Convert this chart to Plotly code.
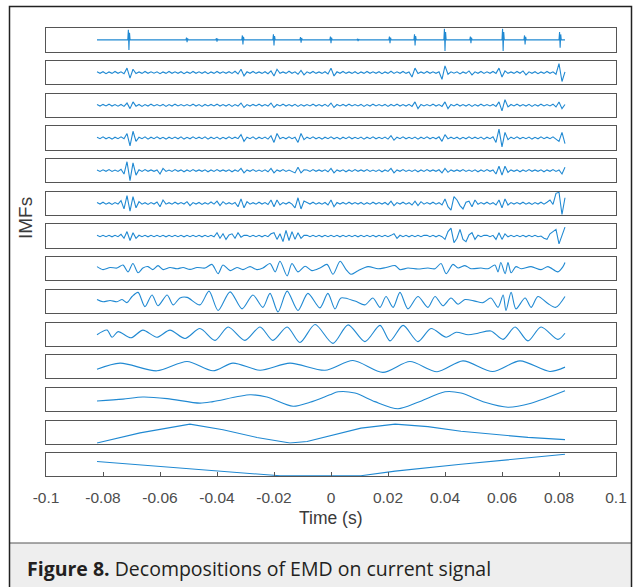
import numpy as np
import plotly.graph_objects as go

W, H = 639, 587
T_START, T_END = -0.0821, 0.0821

# ---------------- data (amplitudes normalised to +-10 per panel) ----------------
imf1_spike_t = [-0.0709, -0.0505, -0.0400, -0.0309, -0.0200, -0.0105, 0.0000, 0.0095,
                0.0207, 0.0295, 0.0400, 0.0491, 0.0604, 0.0681, 0.0804]
imf1_spike_a = [9, 2, 1.5, 4, 5, 2.5, 3, 1, 3, 5, 10, 3, 10, 4, 7]

imf2 = [.7,-.6,.8,-1,.6,-.7,1,-.6,.7,-1,
        4,-5,3,-.8,.6,-.7,1,-.6,.7,-.6,
        .7,-1,.6,-.7,1,-.6,.7,-.6,.8,-1,
        .6,-.7,1,-.6,.7,-.6,.8,-1,.6,-.7,
        1,-.6,.7,-.6,.8,-.7,1.2,-1.2,3,-3,
        .7,-.6,1,-.7,.6,-.7,.8,-1,1.5,-3,
        3,-.7,.6,-.7,1.2,-.6,.7,-1.5,2,-2,
        .7,-.6,1,-.7,.6,-.7,.8,-1.2,4,-3,
        .7,-.6,1,-.7,.6,-.7,.8,-1,.6,-.7,
        1,-.6,.7,-.6,.8,-1,.6,-.7,1.2,-.7,
        .7,-.6,1,-.7,.6,-4,4,-.8,.6,-.7,
        1,-.6,.7,-.6,.8,-6,6,-1.5,.7,-.6,
        .7,-1.2,.6,-.7,1.5,-2,.7,-.6,1,-.7,
        .7,-.6,1,-.7,4,-4,1.5,-.7,.6,-.7,
        1,-.6,1.5,-2,.7,-.6,.8,-1,.6,-.7,
        1,-.6,.7,-1.5,8,-8,.7]

imf3 = [.6,-.7,.8,-.6,1,-.7,.6,-.8,.7,-1,
        2,-3,3,-.8,.7,-1,.6,-.7,1,-.6,
        .7,-.6,.8,-1,.6,-.7,1,-.6,.7,-.6,
        .7,-.6,1,-.7,.6,-1,.7,-.6,.8,-.6,
        1,-.7,.6,-.7,.8,-1,.6,-.7,2,-2,
        .6,-.7,.8,-.6,1,-.7,.6,-.7,2,-2,
        .7,-.6,1,-.7,.6,-.7,.8,-1,.6,-.7,
        .7,-.6,1,-.7,.6,-.7,.8,-1,2,-2,
        .7,-.6,.8,-.7,1,-.6,.7,-.6,.8,-1,
        .6,-.7,1,-.6,.7,-.6,.8,-1,.7,-.6,
        1,-.7,.6,-.7,.8,-1,3,-3,.7,-.6,
        .7,-.6,1,-.7,.6,-1,3,-3,.7,-.6,
        1,-.7,.6,-.7,.8,-1,.6,-.7,1,-.6,
        .7,-.6,.8,-1,3,-5,5,-1.5,.7,-.6,
        1,-.7,.6,-.7,.8,-1,.6,-.7,1,-.6,
        .7,-.6,1,-1.5,3,-3,.7]

imf4 = [.7,-.6,1,-.7,.6,-1,.7,-.6,1,-.7,
        4,-7,6,-3,.7,-.6,1,-1,.7,-.6,
        1,-.7,.6,-1,.7,-.6,.8,-.7,1,-1,
        .6,-.7,1,-.6,.7,-.6,1,-1,.7,-.6,
        .8,-1,.6,-.7,1,-.6,.7,-.6,3,-3,
        .7,-.6,1,-1,.7,-.6,.8,-1,2,-4,
        4,-.7,.6,-.7,1,-.6,.7,-4,4,-1.5,
        .7,-.6,1,-.7,.6,-1,.7,-.6,1,-.7,
        .6,-1,.7,-.6,1,-.7,.6,-.7,.8,-1,
        .7,-.6,1,-.7,.6,-.7,.8,-1,2,-2,
        .7,-.6,1,-.7,.6,-.7,.8,-1,.7,-.6,
        1,-.7,.6,-.7,1,-3,3,-.8,.7,-.6,
        .7,-1,.6,-.7,1,-.6,.7,-.6,.8,-1,
        .7,-.6,1,-4,8,-8,5,-1.5,.7,-.6,
        1,-.7,.6,-.7,.8,-1,.6,-.7,1,-.6,
        .7,-.6,1,-.7,-3,5,-5]

imf5 = [.6,-.7,.8,-.6,1,-.7,.6,-.7,1.2,-3,
        8,-9,7,-4,.8,-.7,1,-.6,.7,-.6,
        .7,-3,2,-.7,.6,-.7,1,-.6,.7,-1,
        .6,-.7,1,-.6,.7,-.6,.8,-1,.6,-.7,
        1,-.6,.7,-.6,.8,-1,.6,-.7,2,-2,
        .7,-.6,1,-.7,.6,-.7,.8,-1,2,-2,
        .7,-.6,1,-.7,.6,-.7,-2,3,-2,.7,
        .6,-.7,1,-.6,.7,-.6,.8,-1,2,-2,
        .7,-.6,.8,-1,.6,-.7,1,-.6,.7,-.6,
        1,-.7,.6,-.7,.8,-1,.6,-.7,2,-2,
        .7,-.6,1,-.7,.6,-.7,.8,-1,.6,-.7,
        1,-.6,.7,-.6,.8,-2,2,-1.5,.7,-.6,
        .7,-.6,1,-.7,.6,-.7,.8,-1,.6,-.7,
        1,-.6,.7,-3,4,-4,4,-1.5,.7,-.6,
        .7,-1,.6,-.7,1,-.6,.7,-.6,.8,-1,
        .7,-.6,1,-.7,.6,-3,3]

imf6 = [.7,-.6,1,-.7,.6,-1,.7,-.6,2.5,-5,
        7,-7,6,-4,1.5,-.7,.6,-1,.7,-.6,
        1.2,-3,3,-.7,.6,-.7,1,-.6,.7,-.6,
        1.5,-2,.7,-.6,.8,-1,.6,-.7,1.2,-.7,
        2,-2,1.5,-.7,.6,-.7,.8,-3,4,-4,
        1.5,-.7,.6,-.7,1,-.6,.7,-1,3,-3,
        3,-1.5,.7,-.6,1,-.7,-4,5,-5,2,
        .7,-.6,1,-.7,.6,-.7,.8,-1.5,3,-3,
        .7,-.6,.8,-.7,1,-.6,.7,-.6,.8,-1,
        .6,-.7,1,-.6,.7,-.6,.8,-1.2,2,-2,
        .7,-.6,1,-.7,.6,-1.5,2,-2,1.5,-.7,
        .7,-.6,1,-.7,.6,-1.5,4,-3,-6,6,
        3,-2,-5,1,2,-3,3,-.8,.7,-.6,
        1,-.7,.6,-1.5,3,-4,4,-1.5,.7,-.6,
        .7,-.6,1,-.7,.6,-1,.7,-.6,1,-.7,
        1,3,-1,9,10,-10,5]

imf7 = [.6,-.6,.7,-.6,.6,-.7,.6,-.6,1.5,-2,
        4,-4,3,-2,.7,-.6,.6,-.7,.6,-.6,
        .7,-.6,.6,-.7,.6,-.6,.7,-.6,.6,-.7,
        .6,-.6,.7,-.6,.6,-.7,.6,-.6,.7,-.6,
        3,-2,2,-3,1,2,-2,3,-1,.7,
        .6,-.6,.7,-.6,.6,-.7,.6,-.6,2,3,
        -3,2,-5,5,-4,4,-3,3,-2,.7,
        .6,-.6,.7,-.6,.6,-.7,.6,-.6,.7,-.6,
        .6,-.7,.6,-.6,.7,-.6,.6,-.7,.6,-.6,
        .7,-.6,.6,-.7,.6,-.6,.7,-.6,.6,2,
        -2,.7,-.6,.6,-.7,.6,-.6,.7,-.6,.6,
        .7,-.6,.6,-.7,.6,-.6,-3,4,7,-6,
        -2,6,-3,-5,1,3,-3,.7,-.6,.6,
        .7,-.6,.6,-3,3,-3,2,-.7,.6,-.6,
        .7,-.6,.6,-.7,.6,-.6,.7,-.6,0,-2,
        -3,2,4,6,-7,0,8]

imf8_t = [-0.0821,-0.0800,-0.0775,-0.0751,-0.0730,-0.0712,-0.0695,-0.0677,-0.0660,-0.0642,
          -0.0625,-0.0607,-0.0589,-0.0565,-0.0540,-0.0519,-0.0495,-0.0470,-0.0442,-0.0418,
          -0.0396,-0.0379,-0.0354,-0.0330,-0.0309,-0.0284,-0.0260,-0.0239,-0.0214,-0.0196,
          -0.0179,-0.0154,-0.0137,-0.0116,-0.0091,-0.0067,-0.0039,-0.0014,0.0007,0.0032,
          0.0053,0.0070,0.0095,0.0130,0.0165,0.0193,0.0225,0.0242,0.0270,0.0305,
          0.0340,0.0365,0.0386,0.0404,0.0428,0.0446,0.0470,0.0491,0.0526,0.0551,
          0.0575,0.0586,0.0596,0.0611,0.0621,0.0632,0.0649,0.0667,0.0702,0.0737,
          0.0761,0.0796,0.0814,0.0821]
imf8_v = [1.9,-0.8,1.1,0.6,3.3,-2.8,4.7,-3.6,0.6,1.9,
          -0.8,2.8,-0.8,1.1,0.0,1.1,-0.6,1.1,0.6,3.9,
          -4.4,3.3,-1.7,1.1,-0.8,1.9,-0.8,0.6,4.7,-2.8,
          6.7,-6.4,4.7,-2.8,2.2,-1.7,0.6,3.9,-5.0,6.7,
          -0.8,-5.0,-1.7,1.9,0.0,1.1,2.8,-0.8,0.6,-0.3,
          0.6,0.0,4.7,-4.4,3.9,0.6,2.8,0.0,0.6,0.0,
          3.3,-2.8,5.6,-4.4,5.6,-3.6,1.9,0.0,1.9,-0.8,
          1.9,-2.8,1.9,5.6]

imf9_t = [-0.0821,-0.0800,-0.0775,-0.0751,-0.0733,-0.0716,-0.0698,-0.0677,-0.0653,-0.0628,
          -0.0607,-0.0575,-0.0554,-0.0530,-0.0505,-0.0460,-0.0428,-0.0396,-0.0354,-0.0312,
          -0.0274,-0.0239,-0.0214,-0.0186,-0.0154,-0.0116,-0.0081,-0.0039,-0.0011,0.0014,
          0.0035,0.0084,0.0119,0.0147,0.0172,0.0193,0.0218,0.0242,0.0270,0.0305,
          0.0340,0.0365,0.0393,0.0421,0.0446,0.0470,0.0505,0.0533,0.0561,0.0586,
          0.0604,0.0614,0.0632,0.0649,0.0681,0.0702,0.0726,0.0761,0.0789,0.0821]
imf9_v = [1.7,-0.3,0.8,-0.3,1.7,-1.1,4.4,8.1,-4.7,5.8,
          -3.9,5.8,-3.1,3.1,3.6,-3.1,9.2,-8.1,8.6,-6.7,
          5.8,-5.3,7.2,-9.4,9.2,-8.1,7.2,-5.8,7.2,-6.7,
          3.1,0.3,-3.1,3.1,-5.3,4.4,-5.3,8.1,-6.7,4.4,
          -5.3,4.4,-3.9,3.1,-2.5,1.7,0.3,-1.1,3.1,-5.3,
          5.8,-8.1,8.1,-6.7,3.1,-5.3,4.4,-1.9,-5.3,4.4]

imf10_t = [-0.0821,-0.0786,-0.0768,-0.0747,-0.0702,-0.0660,-0.0611,-0.0565,-0.0512,-0.0460,
           -0.0407,-0.0361,-0.0302,-0.0249,-0.0204,-0.0154,-0.0109,-0.0056,0.0007,0.0060,
           0.0119,0.0172,0.0207,0.0253,0.0305,0.0351,0.0404,0.0439,0.0481,0.0516,
           0.0561,0.0604,0.0646,0.0691,0.0737,0.0796,0.0821]
imf10_v = [-0.6,3.6,-2.8,2.2,-3.3,3.6,-2.8,3.6,-3.9,5.0,
           -5.6,6.4,-5.6,6.4,-5.6,6.4,-7.5,8.6,-8.3,8.3,
           -6.7,7.8,-6.1,7.8,-6.7,5.0,-2.8,1.7,-0.6,0.8,
           2.8,-4.7,6.4,-6.1,6.4,-4.7,0.8]

imf11_t = [-0.0821,-0.0740,-0.0611,-0.0505,-0.0414,-0.0344,-0.0249,-0.0144,-0.0021,0.0077,
           0.0182,0.0277,0.0372,0.0463,0.0567,0.0663,0.0768,0.0821]
imf11_v = [-2.2,3.3,-3.6,4.7,-3.6,3.3,-3.1,3.3,-3.1,5.6,
           -5.0,4.7,-4.4,5.3,-4.2,5.3,-4.2,-0.3]

imf12_t = [-0.0821,-0.0730,-0.0660,-0.0575,-0.0460,-0.0414,-0.0284,-0.0225,-0.0133,-0.0074,
           -0.0004,0.0025,0.0084,0.0154,0.0235,0.0305,0.0400,0.0456,0.0540,0.0621,
           0.0702,0.0821]
imf12_v = [-1.4,0.3,2.2,0.8,-3.3,-1.9,4.2,2.2,-6.1,-2.5,
           4.2,6.9,5.8,-1.9,-8.3,-2.5,6.9,5.8,-2.5,-6.9,
           -3.3,7.8]

imf13_t = [-0.0821,-0.0670,-0.0495,-0.0379,-0.0260,-0.0144,-0.0084,-0.0004,0.0105,0.0225,
           0.0340,0.0456,0.0575,0.0691,0.0821]
imf13_v = [-9.7,-0.6,7.2,2.2,-4.7,-9.7,-8.3,-3.3,3.6,7.2,
           5.0,0.8,-1.9,-4.7,-6.7]

imf14_t = [-0.0821,-0.0495,-0.0179,0.0105,0.0225,0.0456,0.0691,0.0821]
imf14_v = [3.0,-3.3,-9.8,-9.8,-5.6,0.5,6.3,9.5]

tick_vals = [-0.1, -0.08, -0.06, -0.04, -0.02, 0, 0.02, 0.04, 0.06, 0.08, 0.1]
tick_text = ["-0.1", "-0.08", "-0.06", "-0.04", "-0.02", "0", "0.02", "0.04", "0.06", "0.08", "0.1"]

# ---------------- build series ----------------
def sampled(vals):
    return list(np.linspace(T_START, T_END, len(vals))), vals

r1x, r1y = [T_START], [0]
for t, a in zip(imf1_spike_t, imf1_spike_a):
    for dt, f in zip([-0.0004, -0.0002, 0.0, 0.0002, 0.0004], [0, 1, -1, 0.7, 0]):
        r1x.append(t + dt)
        r1y.append(a * f)
r1x.append(T_END); r1y.append(0)

series = [
    (r1x, r1y, "linear"),
    (*sampled(imf2), "linear"),
    (*sampled(imf3), "linear"),
    (*sampled(imf4), "linear"),
    (*sampled(imf5), "linear"),
    (*sampled(imf6), "linear"),
    (*sampled(imf7), "linear"),
    (imf8_t, imf8_v, "spline"),
    (imf9_t, imf9_v, "spline"),
    (imf10_t, imf10_v, "spline"),
    (imf11_t, imf11_v, "spline"),
    (imf12_t, imf12_v, "spline"),
    (imf13_t, imf13_v, "linear"),
    (imf14_t, imf14_v, "linear"),
]

LINE_COLOR = "#2089d2"
AX_COLOR = "#555555"

fig = go.Figure()
layout = dict(
    width=W, height=H, autosize=False,
    margin=dict(l=0, r=0, t=0, b=0, pad=0),
    paper_bgcolor="white", plot_bgcolor="white",
    showlegend=False,
)

n = len(series)
x0, x1 = 46 / W, 616 / W
top0, pitch, boxh = 28.3, 32.69, 23.2
for i, (xs, ys, shape) in enumerate(series):
    k = i + 1
    sfx = "" if k == 1 else str(k)
    tpx = top0 + i * pitch
    bpx = tpx + boxh
    last = (k == n)
    layout["xaxis" + sfx] = dict(
        domain=[x0, x1], range=[-0.1, 0.1], anchor="y" + sfx, automargin=False,
        showline=True, mirror=True, linecolor=AX_COLOR, linewidth=1.3,
        showgrid=False, zeroline=False,
        showticklabels=last,
        ticks="inside" if last else "", ticklen=4, tickwidth=1, tickcolor=AX_COLOR,
        tickvals=tick_vals, ticktext=tick_text,
        tickfont=dict(family="Liberation Sans, Arial", size=15.5, color="#4d4d4d"),
        ticklabelstandoff=7,
        matches=None if k == 1 else "x",
    )
    layout["yaxis" + sfx] = dict(
        domain=[1 - bpx / H, 1 - tpx / H], range=[-10.4, 10.4], anchor="x" + sfx,
        automargin=False,
        showline=True, mirror=True, linecolor=AX_COLOR, linewidth=1.3,
        showgrid=False, zeroline=False, showticklabels=False, ticks="",
    )
    fig.add_trace(go.Scatter(
        x=xs, y=ys, mode="lines", xaxis="x" + sfx, yaxis="y" + sfx,
        line=dict(color=LINE_COLOR, width=1.1, shape=shape, smoothing=0.8),
        hoverinfo="skip"))

layout["shapes"] = [
    dict(type="rect", xref="paper", yref="paper",
         x0=9.5 / W, x1=631.5 / W, y0=-0.05, y1=1 - 543 / H,
         fillcolor="#eeeeee", line=dict(width=0), layer="below"),
    dict(type="line", xref="paper", yref="paper",
         x0=9.5 / W, x1=631.5 / W, y0=1 - 543 / H, y1=1 - 543 / H,
         line=dict(color="#555555", width=1.2)),
    dict(type="rect", xref="paper", yref="paper",
         x0=9.5 / W, x1=631.5 / W, y0=-0.05, y1=1 - 6.5 / H,
         line=dict(color="#222222", width=1.5), fillcolor="rgba(0,0,0,0)"),
]
layout["annotations"] = [
    dict(text="IMFs", textangle=-90, xref="paper", yref="paper",
         x=25 / W, y=1 - 218 / H, xanchor="center", yanchor="middle", showarrow=False,
         font=dict(family="Liberation Sans, Arial", size=19, color="#3a3a3a")),
    dict(text="Time (s)", xref="paper", yref="paper",
         x=(46 + 616) / 2 / W, y=1 - 518 / H, xanchor="center", yanchor="middle",
         showarrow=False,
         font=dict(family="Liberation Sans, Arial", size=17.5, color="#3a3a3a")),
    dict(text="<b>Figure 8.</b> Decompositions of EMD on current signal",
         xref="paper", yref="paper", x=25 / W, y=1 - 568 / H,
         xanchor="left", yanchor="middle", showarrow=False,
         font=dict(family="Open Sans", size=19.5, color="#231f20")),
]
fig.update_layout(**layout)
fig.write_html("out.html")
